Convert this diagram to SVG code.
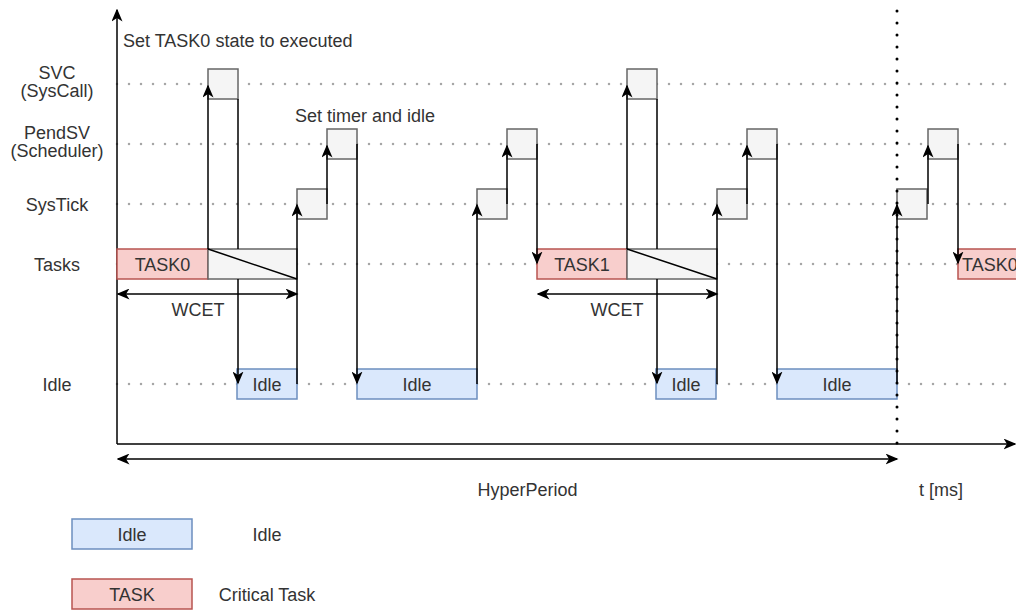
<svg xmlns="http://www.w3.org/2000/svg" width="1016" height="610" viewBox="0 0 1016 610">
<style>
text{font-family:"Liberation Sans",Arial,Helvetica,sans-serif;font-size:18px;fill:#333333;}
.c{text-anchor:middle;}
.grid{stroke:#a6a6a6;stroke-width:2.5;stroke-linecap:round;stroke-dasharray:0 12;fill:none;}
.vdot{stroke:#000000;stroke-width:3;stroke-linecap:round;stroke-dasharray:0 12;fill:none;}
.box{fill:#f5f5f5;stroke:#666666;stroke-width:1.5;}
.task{fill:#f8cecc;stroke:#b85450;stroke-width:1.5;}
.idle{fill:#dae8fc;stroke:#6c8ebf;stroke-width:1.5;}
.ln{stroke:#000000;stroke-width:1.5;fill:none;}
.arr{stroke:#000000;stroke-width:1.5;fill:none;marker-end:url(#ah);}
.darr{stroke:#000000;stroke-width:1.5;fill:none;marker-end:url(#ah);marker-start:url(#ah);}
</style>
<defs>
<marker id="ah" viewBox="0 0 13 11" refX="11.5" refY="5.5" markerWidth="13" markerHeight="11" markerUnits="userSpaceOnUse" orient="auto-start-reverse">
<path d="M0,0 L13,5.5 L0,11 L3.5,5.5 Z" fill="#000000"/>
</marker>
</defs>
<rect width="1016" height="610" fill="#ffffff"/>

<g id="grid">
<path class="grid" d="M117,84 H1016"/>
<path class="grid" d="M117,144 H1016"/>
<path class="grid" d="M117,204 H1016"/>
<path class="grid" d="M117,264 H1016"/>
<path class="grid" d="M117,384 H1016"/>
</g>

<g id="axes">
<path class="arr" d="M117,444 V10"/>
<path class="arr" d="M117,444 H1015"/>
</g>

<g id="row-labels">
<text class="c" x="57" y="78.5">SVC</text>
<text class="c" x="57" y="96.5">(SysCall)</text>
<text class="c" x="57" y="138.5">PendSV</text>
<text class="c" x="57" y="156.5">(Scheduler)</text>
<text class="c" x="57" y="210.5">SysTick</text>
<text class="c" x="57" y="270.5">Tasks</text>
<text class="c" x="57" y="390.5">Idle</text>
</g>

<g id="annotations">
<text x="123" y="47">Set TASK0 state to executed</text>
<text x="295" y="121.5">Set timer and idle</text>
<text class="c" x="198" y="316">WCET</text>
<text class="c" x="617" y="316">WCET</text>
<text class="c" x="527.5" y="496">HyperPeriod</text>
<text class="c" x="941" y="496">t [ms]</text>
</g>

<g id="svc1"><rect class="box" x="208" y="69" width="30" height="30"/></g>
<g id="svc2"><rect class="box" x="627" y="69" width="30" height="30"/></g>
<g id="pendsv1"><rect class="box" x="327" y="129" width="30" height="30"/></g>
<g id="pendsv2"><rect class="box" x="507" y="129" width="30" height="30"/></g>
<g id="pendsv3"><rect class="box" x="747" y="129" width="30" height="30"/></g>
<g id="pendsv4"><rect class="box" x="928" y="129" width="30" height="30"/></g>
<g id="systick1"><rect class="box" x="297" y="189" width="30" height="30"/></g>
<g id="systick2"><rect class="box" x="477" y="189" width="30" height="30"/></g>
<g id="systick3"><rect class="box" x="717" y="189" width="30" height="30"/></g>
<g id="systick4"><rect class="box" x="897" y="189" width="30" height="30"/></g>

<g id="task0"><rect class="task" x="117" y="249" width="91" height="30"/><text class="c" x="162.5" y="270.5">TASK0</text></g>
<g id="task0-tail"><rect class="box" x="208" y="249" width="89" height="30"/><path class="ln" d="M208,249 L297,279"/></g>
<g id="task1"><rect class="task" x="537" y="249" width="90" height="30"/><text class="c" x="582" y="270.5">TASK1</text></g>
<g id="task1-tail"><rect class="box" x="627" y="249" width="90" height="30"/><path class="ln" d="M627,249 L717,279"/></g>
<g id="task0b"><rect class="task" x="958" y="249" width="70" height="30"/><text x="962" y="270.5">TASK0</text></g>

<g id="idle1"><rect class="idle" x="237" y="369" width="60" height="30"/><text class="c" x="267" y="390.5">Idle</text></g>
<g id="idle2"><rect class="idle" x="357" y="369" width="120" height="30"/><text class="c" x="417" y="390.5">Idle</text></g>
<g id="idle3"><rect class="idle" x="656" y="369" width="60" height="30"/><text class="c" x="686" y="390.5">Idle</text></g>
<g id="idle4"><rect class="idle" x="777" y="369" width="120" height="30"/><text class="c" x="837" y="390.5">Idle</text></g>

<g id="connectors">
<path class="arr" d="M208,249 V86"/>
<path class="arr" d="M238,99 V249 M238,279 V383"/>
<path class="arr" d="M297,384 V205"/>
<path class="arr" d="M327,204 V146"/>
<path class="arr" d="M357,144 V383"/>
<path class="arr" d="M477,384 V205"/>
<path class="arr" d="M507,204 V146"/>
<path class="arr" d="M537,144 V263"/>
<path class="arr" d="M627,249 V86"/>
<path class="arr" d="M657,99 V249 M657,279 V383"/>
<path class="arr" d="M717,384 V205"/>
<path class="arr" d="M747,204 V146"/>
<path class="arr" d="M777,144 V383"/>
<path class="arr" d="M897,384 V205"/>
<path class="arr" d="M928,204 V146"/>
<path class="arr" d="M958,144 V263"/>
<path class="darr" d="M118,294 H297"/>
<path class="darr" d="M538,294 H717"/>
<path class="darr" d="M118,459 H897"/>
</g>

<g id="hyperperiod-marker">
<path class="vdot" d="M897,11 V455"/>
</g>

<g id="legend-idle"><rect class="idle" x="72" y="519" width="120" height="30"/><text class="c" x="132" y="540.5">Idle</text><text class="c" x="267" y="540.5">Idle</text></g>
<g id="legend-task"><rect class="task" x="72" y="579" width="120" height="30"/><text class="c" x="132" y="600.5">TASK</text><text class="c" x="267" y="600.5">Critical Task</text></g>
</svg>
